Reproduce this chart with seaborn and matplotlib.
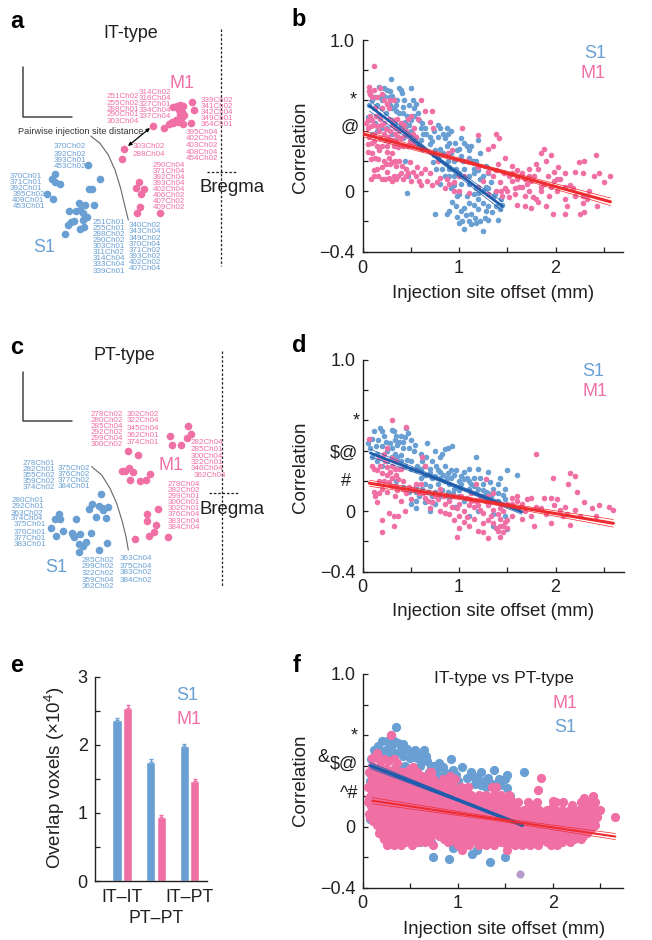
import numpy as np, pandas as pd
import matplotlib
matplotlib.use('Agg')
import matplotlib.pyplot as plt
import seaborn as sns

sns.set_theme(style='ticks')
plt.rcParams['font.family'] = ['Liberation Sans', 'DejaVu Sans']
plt.rcParams['mathtext.fontset'] = 'custom'
plt.rcParams['mathtext.rm'] = 'Liberation Sans'
plt.rcParams['mathtext.default'] = 'regular'

BLUE = '#699FD3'; PINK = '#F06FA4'; LB = '#1E5DAB'; LR = '#EE2B2E'; INK = '#231F20'

# ---------- panel b ----------
b_s1 = [(.29,.74),(.17,.69),(.22,.68),(.25,.67),(.28,.66),(.30,.63),(.38,.68),(.40,.67),(.41,.65),(.50,.68),(.43,.60),(.55,.58),(.53,.55),(.57,.52),(.07,.57),(.10,.6),(.12,.55),(.05,.49),(.09,.47),(.13,.45),(.17,.5),(.2,.55),(.24,.52),(.28,.57),(.32,.55),(.35,.53),(.38,.52),(.42,.52),(.46,.5),(.5,.47),(.53,.5),(.58,.47),(.3,.47),(.34,.45),(.4,.44),(.44,.42),(.5,.4),(.55,.36),(.6,.34),(.62,.45),(.65,.42),(.66,.38),(.7,.36),(.74,.4),(.78,.44),(.8,.42),(.83,.38),(.85,.35),(.88,.38),(.92,.4),(.62,.28),(.7,.31),(.75,.27),(.78,.22),(.83,.25),(.87,.3),(.92,.25),(.95,.2),(.98,.27),(1.02,.35),(1.05,.32),(1.08,.3),(1.12,.3),(1.2,.34),(1.22,.25),(1.18,.2),(1.1,.22),(1.05,.15),(1.0,.12),(.95,.1),(.9,.15),(.85,.1),(.8,.05),(.82,.15),(.73,.19),(.76,.15),(1.28,.17),(1.25,.1),(1.3,.12),(1.33,.06),(1.22,.08),(1.18,.02),(1.1,.05),(1.02,.05),(.95,.04),(1.0,-.02),(1.08,-.03),(1.15,-.02),(1.2,-.05),(1.25,-.08),(1.3,-.1),(1.35,-.04),(1.42,-.12),(1.45,-.09),(1.28,-.13),(1.2,-.12),(1.12,-.15),(1.05,-.11),(.97,-.1),(.9,-.13),(.75,-.15),(.87,-.15),(.98,-.17),(1.03,-.2),(1.05,-.25),(1.0,-.21),(1.12,-.22),(1.17,-.18),(1.18,-.21),(1.25,-.26),(1.3,-.19),(1.4,-.19),(.46,-.01),(.47,.1),(.44,.2),(.2,.42),(.1,.38),(.15,.4),(.25,.42),(.3,.38),(.36,.36),(.42,.35),(.5,.33),(.57,.3),(1.3,.02),(1.37,-.02),(1.43,-.05),
 (.08,.64),(.13,.62),(.18,.62),(.22,.63),(.27,.62),(.33,.6),(.36,.6),(.42,.56),(.48,.57),(.52,.6),(.15,.57),(.2,.6),(.3,.55),(.35,.57),(.44,.46),(.48,.44),(.6,.42),(.63,.38),(.72,.33),(.78,.36),(.87,.42),(.9,.32),(.96,.32),(1.0,.28),(1.02,.23),(1.1,.27),(1.14,.2),(.97,.15),(1.04,.2),(1.15,.12),(1.2,.14),(.88,.2),(.8,.28),(.74,.24),(1.1,.1),(1.28,.03),(1.2,-.01),(1.25,0),(1.38,-.1),(1.34,-.14),(1.27,-.18),(1.22,-.2),(1.15,-.09),(1.1,-.08),(1.02,-.13),(1.07,-.16),(1.1,-.2),(.93,-.07),(.98,-.03),(.92,.02),(1.15,.15),(.9,.1)]
b_m1 = [(.12,.83),(.07,.69),(.07,.66),(.08,.64),(.12,.67),(.18,.68),(.15,.62),(.1,.62),(.2,.64),(.22,.6),(.25,.58),(.28,.6),(.32,.6),(.27,.55),(.2,.55),(.13,.55),(.08,.5),(.05,.47),(.1,.47),(.14,.5),(.18,.48),(.22,.45),(.27,.48),(.32,.47),(.36,.48),(.4,.45),(.43,.44),(.47,.48),(.5,.5),(.45,.4),(.38,.4),(.33,.42),(.28,.4),(.22,.38),(.17,.4),(.12,.38),(.07,.36),(.1,.32),(.15,.3),(.2,.3),(.25,.3),(.3,.34),(.35,.33),(.4,.35),(.48,.37),(.55,.36),(.53,.42),(.57,.48),(.6,.6),(.65,.53),(.72,.53),(.7,.46),(.73,.42),(.05,.26),(.1,.25),(.17,.27),(.25,.26),(.3,.25),(.33,.2),(.28,.18),(.22,.2),(.15,.15),(.12,.14),(.09,.08),(.2,.08),(.25,.13),(.3,.07),(.35,.08),(.4,.12),(.45,.15),(.42,.08),(.5,.07),(.55,.1),(.58,.07),(.65,.15),(.7,.12),(.72,.04),(.8,.09),(.87,.08),(.9,.05),(.95,.0),(1.0,.1),(.78,.2),(.88,.25),(.93,.27),(1.03,.42),(1.3,.28),(1.38,.38),(1.35,.3),(1.41,.35),(1.2,.37),(1.08,.2),(1.2,.16),(1.3,.13),(1.4,.18),(1.48,.22),(1.55,.17),(1.52,.1),(1.6,.08),(1.58,.02),(1.65,.12),(1.7,.05),(1.72,.15),(1.78,.1),(1.8,.18),(1.85,.25),(1.88,.28),(1.9,.2),(1.95,.24),(1.98,.13),(2.03,.16),(2.05,.08),(2.1,.03),(2.2,.13),(2.15,.04),(1.48,.02),(1.42,.06),(1.38,.0),(1.45,-.03),(1.52,-.04),(1.6,-.09),(1.68,-.1),(1.75,-.11),(1.82,-.07),(1.9,-.1),(1.97,-.15),(2.1,-.15),(2.12,-.1),(2.25,-.15),(2.3,-.14),(2.28,-.08),(2.43,-.1),(2.35,.0),(2.4,.1),(2.45,.12),(2.5,.06),(2.57,.1),(2.3,.2),(2.42,.24),(2.24,.19),(2.28,.12),(2.18,.02),(2.02,.0),(1.93,-.03),(1.85,.03),(1.8,-.05),(1.72,0),(1.65,.03),(1.55,.07),(1.0,.0),(1.1,-.01),(1.2,.03),(1.3,-.02),
 (.03,.45),(.06,.42),(.09,.43),(.12,.44),(.15,.43),(.19,.44),(.24,.41),(.26,.36),(.3,.44),(.34,.38),(.37,.36),(.42,.41),(.44,.37),(.49,.33),(.52,.38),(.06,.31),(.12,.33),(.18,.35),(.23,.34),(.27,.33),(.32,.3),(.37,.29),(.42,.3),(.47,.3),(.52,.31),(.09,.21),(.13,.22),(.16,.21),(.2,.16),(.24,.18),(.27,.22),(.3,.19),(.35,.17),(.38,.2),(.41,.17),(.47,.12),(.49,.19),(.56,.16),(.6,.12),(.12,.1),(.16,.1),(.23,.08),(.27,.09),(.32,.1),(.37,.1),(.45,.1),(.52,.13),(.6,.04),(.77,.06),(.67,.07),(.85,.02),(.95,.06),(1.05,.1),(1.25,.07),(1.35,.1),(1.55,.12),(1.62,.03),(1.68,.08),(1.75,.07),(1.82,.15),(1.88,.05),(1.92,.1),(1.98,.07),(2.02,.08),(1.85,-.0),(1.95,.03),(2.1,.12),(2.2,-.03),(2.28,-.03),(2.33,-.05),(2.1,-.05),(1.72,.1),(1.6,.14),(1.47,.12),(1.38,.14),(1.43,.0),(1.5,.0),(1.58,-.02),(1.68,-.03),(1.77,-.04)]
b_fit_s1 = ([.07,.75,1.45], [.565,.23,-.10], [.60,.24,-.07], [.53,.22,-.13])
b_fit_m1 = ([0,1.3,2.57], [.38,.155,-.07], [.40,.165,-.045], [.36,.145,-.095])

# ---------- panel d ----------
d_s1 = [(.06,.45),(.12,.53),(.1,.48),(.18,.55),(.2,.53),(.16,.47),(.22,.5),(.3,.54),(.32,.53),(.36,.44),(.38,.46),(.42,.46),(.45,.55),(.47,.52),(.44,.49),(.5,.47),(.54,.44),(.53,.4),(.6,.38),(.67,.45),(.75,.4),(.82,.38),(.85,.41),(.88,.42),(.93,.43),(.8,.36),(.1,.36),(.15,.38),(.2,.35),(.25,.4),(.3,.42),(.36,.36),(.4,.37),(.46,.34),(.5,.33),(.56,.3),(.62,.33),(.66,.36),(.7,.28),(.76,.3),(.8,.26),(.85,.3),(.88,.25),(.92,.22),(.97,.27),(1.02,.23),(1.05,.26),(1.1,.28),(1.18,.36),(1.2,.28),(1.15,.22),(1.22,.22),(1.3,.26),(1.25,.18),(1.32,.19),(1.4,.18),(1.42,.22),(1.48,.15),(1.5,.27),(1.6,.24),(1.48,.08),(1.4,.07),(1.33,.1),(1.25,.1),(1.18,.12),(1.1,.15),(1.02,.18),(.95,.15),(.9,.18),(.85,.2),(.78,.18),(.72,.22),(.65,.24),(.6,.22),(.62,.15),(.68,.13),(.72,.1),(.75,.05),(.7,.0),(.65,.06),(.55,.02),(.5,.05),(.58,.1),(.55,.16),(.8,.1),(.9,.08),(1.0,.1),(1.05,.07),(.96,.03),(1.1,-.03),(1.2,.0),(1.35,-.02),(1.48,-.03),(1.5,-.12),(1.35,-.1),(.55,.13),
 (.08,.42),(.14,.43),(.2,.43),(.24,.46),(.28,.45),(.33,.47),(.35,.5),(.4,.5),(.42,.42),(.48,.42),(.3,.36),(.34,.38),(.4,.33),(.44,.3),(.5,.28),(.55,.27),(.6,.28),(.65,.3),(.72,.33),(.78,.27),(.83,.24),(.87,.22),(.7,.25),(.75,.23),(.8,.22),(.92,.27),(.95,.24),(1.0,.2),(1.05,.21),(1.08,.22),(1.1,.2),(1.12,.18),(1.15,.17),(1.2,.15),(1.25,.14),(1.28,.13),(1.3,.12),(1.35,.15),(1.4,.12),(1.45,.11),(.82,.14),(.88,.13),(.94,.12),(1.0,.14),(.75,.13),(.7,.17),(.65,.18),(.6,.12),(.55,.07),(.72,.06),(.48,.13),(.42,.16),(.35,.2),(.25,.33),(.15,.33),(.2,.3)]
d_m1 = [(.07,.48),(.3,.6),(.45,.56),(.25,.42),(.17,.36),(.22,.38),(.3,.35),(.35,.33),(.12,.28),(.15,.27),(.2,.25),(.25,.29),(.28,.26),(.35,.24),(.37,.21),(.4,.28),(.42,.2),(.62,.36),(.65,.3),(.12,.13),(.13,.1),(.17,.12),(.15,.06),(.2,.15),(.25,.13),(.3,.17),(.33,.1),(.36,.14),(.4,.07),(.45,.12),(.5,.08),(.52,.15),(.6,.18),(.63,.12),(.68,.07),(.27,-.01),(.32,-.03),(.37,-.03),(.44,0),(.2,-.06),(.32,-.1),(.2,-.14),(.7,.02),(.75,.1),(.8,.15),(.85,.05),(.95,.1),(1.0,.05),(1.05,.0),(1.08,.09),(1.12,.12),(1.18,.07),(1.22,.01),(1.25,-.01),(1.3,.04),(.9,-.02),(.95,-.06),(1.05,-.07),(1.1,-.1),(1.0,-.11),(.98,-.17),(1.2,-.13),(1.25,-.14),(1.3,-.18),(1.42,-.17),(1.35,-.08),(1.42,-.05),(1.45,-.1),(1.5,-.06),(1.55,-.03),(1.6,.02),(1.55,.09),(1.6,.1),(1.5,.05),(1.42,.02),(1.35,.01),(1.28,.21),(1.18,.18),(1.35,.12),(1.65,.05),(1.68,.0),(1.7,.08),(1.75,.09),(1.8,.03),(1.85,.02),(1.88,.09),(1.95,.09),(1.98,.04),(2.02,.08),(2.05,.01),(2.1,.03),(2.12,-.02),(2.2,.01),(2.25,-.03),(2.3,.06),(2.38,.02),(2.45,.04),(2.55,.03),(2.6,.01),(2.42,-.03),(1.9,-.02),(1.78,-.1),(1.65,-.05),(1.8,.38),(1.97,.22),(2.15,.25),(2.2,.23),(2.13,.18),(2.22,.13),(1.75,-.03),(2.08,-.03),(1.95,-.08),(2.15,-.09),
 (.1,.3),(.18,.3),(.23,.33),(.3,.3),(.38,.28),(.25,.24),(.3,.22),(.33,.28),(.22,.2),(.17,.2),(.27,.19),(.35,.17),(.42,.15),(.48,.16),(.55,.18),(.58,.12),(.65,.09),(.72,.06),(.78,.08),(.84,.1),(.9,.07),(.98,.02),(1.02,.1),(1.1,.04),(1.15,.03),(1.2,.04),(1.28,.07),(1.33,-.03),(1.38,.06),(1.4,-.02),(1.45,.0),(1.48,-.07),(1.42,-.1),(1.3,-.06),(1.25,-.08),(1.15,-.05),(1.08,-.04),(1.0,-.03),(.85,-.01),(.8,0),(.93,.03),(1.55,.05),(1.6,.07),(1.3,.1),(1.22,.1),(1.12,.07),(1.4,-.13),(1.45,-.14),(1.38,-.11),(1.5,-.11)]
d_fit_s1 = ([.08,.85,1.65], [.385,.195,-.005], [.41,.205,.01], [.36,.185,-.02])
d_fit_m1 = ([.07,1.3,2.6], [.185,.06,-.08], [.205,.07,-.055], [.165,.05,-.105])

# ---------- panel f ----------
f_s1 = [(.35,.65),(.3,.6),(.12,.5),(.2,.49),(.25,.5),(.3,.52),(.37,.55),(.4,.53),(.43,.5),(.47,.51),(.55,.5),(.6,.48),(.65,.5),(.3,.46),(.35,.48),(.42,.46),(.5,.45),(.57,.45),(.62,.44),(.09,.44),(.68,.43),(.72,.4),(.75,.4),(.8,.42),(.85,.39),(.93,.44),(.95,.37),(1.05,.39),(1.14,.36),(1.25,.36),(1.38,.37),(1.52,.34),(1.5,.31),(1.7,.36),(.75,.3),(.8,.33),(.88,.35),(1.0,.3),(1.1,.32),(1.2,.32),(1.28,.3),(1.18,.28),(1.08,.25),(1.32,.32),(1.45,.27),(1.4,.26),(1.3,.26),(.08,.35),(.08,.3),(.15,.36),(.7,.36),(.6,.4),(.45,.4),(.35,.4),(.25,.45),(1.52,.25),(1.55,.2),(.08,.05),(.42,-.0),(.6,-.1),(.72,-.1),(.74,-.2),(.91,-.21),(.95,-.14),(1.05,-.13),(1.15,-.18),(1.34,-.23),(1.2,-.15),(1.5,-.2),
 (.2,.56),(.26,.56),(.33,.56),(.42,.54),(.16,.53),(.52,.47),(.67,.46),(.78,.38),(.9,.3),(.98,.34),(1.16,.33),(1.24,.27),(1.36,.28),(1.43,.31)]
f_mix = [(1.66,-.31)]
f_m1_levels = [.36,.31,.26,.21,.16,.11,.06,.01,-.04,-.08,-.12,
               .335,.285,.235,.185,.135,.085,.035,-.015,-.06,-.10]
f_m1_rows = [
 [.07,.13,.2,.28,.35,.43,.5,.57,.72],
 [.1,.16,.22,.29,.36,.43,.51,.59,.66,.74,.84,.97],
 [.06,.12,.19,.26,.33,.4,.48,.56,.63,.71,.79,.87,.95,1.03,1.11,1.36,1.4],
 [.09,.18,.26,.34,.42,.5,.58,.66,.74,.82,.9,.98,1.06,1.14,1.22,1.3,1.38,1.46,1.54],
 [.06,.13,.21,.29,.37,.45,.53,.61,.69,.77,.85,.93,1.01,1.09,1.17,1.25,1.33,1.41,1.49,1.57,1.63,1.74,1.83,2.03,2.11,2.3,2.37,2.45],
 [.1,.18,.26,.34,.42,.5,.58,.66,.74,.82,.9,.98,1.06,1.14,1.22,1.3,1.38,1.46,1.54,1.62,1.7,1.78,1.86,1.94,2.02,2.1,2.18,2.28,2.36,2.44,2.5],
 [.08,.15,.23,.31,.39,.47,.55,.63,.71,.79,.87,.95,1.03,1.11,1.19,1.27,1.35,1.43,1.51,1.59,1.67,1.75,1.83,1.91,1.99,2.07,2.15,2.23,2.31,2.39,2.47,2.66],
 [.15,.22,.29,.37,.45,.53,.61,.69,.77,.85,.93,1.01,1.09,1.17,1.25,1.33,1.41,1.49,1.57,1.65,1.73,1.81,1.89,1.97,2.05,2.13,2.21,2.29,2.37,2.44],
 [.17,.25,.35,.44,.52,.6,.68,.76,.84,.92,1.0,1.08,1.16,1.24,1.32,1.4,1.48,1.56,1.64,1.72,1.8,1.88,1.96,2.04,2.12,2.2,2.28,2.36],
 [.22,.36,.44,.52,.6,.7,.86,.94,1.02,1.1,1.18,1.26,1.34,1.42,1.5,1.58,1.66,1.74,1.82,1.9,1.98,2.06,2.14,2.22,2.3],
 [.26,.33,.4,.52,.74,1.0,1.05,1.12,1.22,1.3,1.38,1.52,1.6,1.68,1.76,1.84,1.98,2.05],
 [.11,.19,.26,.33,.4,.47,.55,.62,.7],
 [.09,.15,.23,.3,.37,.44,.52,.6,.68,.76,.83,.91],
 [.1,.16,.23,.31,.38,.44,.53,.6,.67,.75,.83,.91,.99,1.07],
 [.07,.14,.22,.3,.38,.46,.54,.62,.7,.78,.86,.94,1.02,1.1,1.18,1.26,1.34,1.42,1.5,1.55],
 [.09,.17,.25,.33,.41,.49,.57,.65,.73,.81,.89,.97,1.05,1.13,1.21,1.29,1.37,1.45,1.53,1.6,1.78,2.0,2.35,2.42],
 [.07,.14,.22,.3,.38,.46,.54,.62,.7,.78,.86,.94,1.02,1.1,1.18,1.26,1.34,1.42,1.5,1.58,1.66,1.74,1.82,1.9,1.98,2.06,2.14,2.24,2.32,2.4],
 [.11,.19,.27,.35,.43,.51,.59,.67,.75,.83,.91,.99,1.07,1.15,1.23,1.31,1.39,1.47,1.55,1.63,1.71,1.79,1.87,1.95,2.03,2.11,2.19,2.27,2.35,2.43],
 [.18,.26,.34,.41,.49,.57,.65,.73,.81,.89,.97,1.05,1.13,1.21,1.29,1.37,1.45,1.53,1.61,1.69,1.77,1.85,1.93,2.01,2.09,2.17,2.25,2.33,2.4],
 [.21,.29,.4,.48,.56,.64,.72,.8,.88,.96,1.04,1.12,1.2,1.28,1.36,1.44,1.52,1.6,1.68,1.76,1.84,1.92,2.0,2.08,2.16,2.24,2.32],
 [.28,.36,.44,.52,.58,.66,.9,.98,1.06,1.14,1.22,1.3,1.38,1.46,1.54,1.62,1.7,1.78,1.86,1.94,2.02,2.1,2.18],
]
f_m1_extra = [(.3,.6),(.15,.48),(.1,.45),(.17,.44),(.22,.44),(.27,.43),(.33,.44),(.36,.42),(.5,.38),(.53,.39),(.71,.36),(.92,.33),(1.88,.32),(1.85,.24),(.1,.40),(.18,.40),(.25,.38),(.33,.38),(.4,.36),(1.05,-.15),(1.52,-.15),(2.0,.17),(2.2,.14),(2.33,.19),(2.42,.2)]
f_fit_s1 = ([.08,.9,1.68], [.40,.2,.01], [.42,.21,.0], [.38,.19,.02])
f_fit_m1 = ([.1,1.4,2.66], [.17,.05,-.065], [.19,.06,-.045], [.15,.04,-.085])

# ---------- panel e ----------
e_groups = ['IT–IT', 'PT–PT', 'IT–PT']
e_s1 = [2.36, 1.75, 1.98]; e_m1 = [2.54, .94, 1.47]
e_s1_err = [.04, .04, .03]; e_m1_err = [.05, .03, .03]

# ---------- panels a / c: injection maps (sheet position, pixels) ----------
a_m1 = [(576,305),(583,331),(520,322),(530,318),(540,315),(550,318),(537,330),(545,335),(540,345),(553,345),(545,352),(527,360),(515,365),(508,372),(518,370),(533,365),(550,372),(574,369),(492,385),(459,378),(373,446),(365,477),(418,546),(407,563),(433,568),(424,582),(421,622),(411,640),(480,640)]
a_s1 = [(265,496),(165,523),(155,538),(165,545),(179,552),(301,536),(268,567),(275,567),(140,581),(158,598),(236,610),(254,615),(281,616),(208,634),(228,632),(240,630),(248,640),(258,650),(262,652),(250,660),(223,663),(213,667),(205,675),(240,687),(253,680),(196,702)]
c_m1 = [(565,289),(572,313),(560,323),(509,319),(517,344),(542,345),(385,362),(415,375),(387,413),(365,423),(375,423),(399,426),(450,432),(437,450),(420,454),(390,450),(474,538),(442,552),(442,572),(467,585),(462,607),(447,617),(503,622),(406,628)]
c_s1 = [(302,491),(275,522),(266,537),(298,528),(305,535),(323,531),(310,540),(289,561),(317,565),(178,553),(181,566),(166,568),(228,568),(153,595),(188,603),(167,617),(215,610),(218,615),(222,622),(240,612),(273,610),(257,635),(238,642),(250,648),(320,638),(298,660),(238,665)]
a_curve = [(272,408),(300,430),(325,465),(345,510),(362,565),(375,620),(385,660)]
c_curve = [(275,410),(305,435),(330,475),(350,520),(367,575),(378,620),(385,660)]

a_labels = [
 ('m',320,['251Ch02','255Ch02','288Ch01','290Ch01','303Ch04'],[288,310,328,345,365]),
 ('m',417,['314Ch02','316Ch04','327Ch01','334Ch04','337Ch04'],[277,295,313,331,348]),
 ('m',602,['339Ch02','341Ch02','342Ch04','349Ch01','364Ch01'],[300,318,336,354,372]),
 ('m',558,['395Ch04','402Ch01','403Ch02','408Ch04','454Ch02'],[397,417,436,456,475]),
 ('m',399,['303Ch02','288Ch04'],[441,462]),
 ('m',457,['290Ch04','371Ch04','392Ch04','393Ch04','402Ch04','406Ch02','407Ch02','409Ch02'],[496,514,532,550,568,586,604,622]),
 ('s',162,['370Ch02','392Ch02','393Ch01','453Ch02'],[441,462,480,498]),
 ('s',30,['370Ch01','371Ch01','392Ch01'],[529,547,565]),
 ('s',37,['395Ch02'],[583]),('s',35,['409Ch01'],[601]),('s',37,['453Ch01'],[621]),
 ('s',277,['251Ch01','255Ch01','288Ch02','290Ch02','303Ch01','311Ch02','314Ch04','333Ch04','339Ch01'],[667,684,702,723,741,759,777,795,814]),
 ('s',387,['340Ch02','343Ch04','349Ch02','370Ch04','371Ch02','393Ch02','402Ch02','407Ch04'],[677,695,714,733,751,769,787,805]),
]
c_labels = [
 ('m',272,['278Ch02','280Ch02','285Ch04','292Ch02','299Ch04','300Ch02'],[253,271,289,307,325,345]),
 ('m',379,['302Ch02','322Ch04','345Ch04','362Ch01','374Ch01'],[253,273,295,316,337]),
 ('m',573,['282Ch04','285Ch01','300Ch04','322Ch01','346Ch04'],[337,358,379,397,417]),
 ('m',581,['362Ch04'],[436]),
 ('m',502,['278Ch04','282Ch02','299Ch01','300Ch01','302Ch01','376Ch04','383Ch04','384Ch04'],[463,481,499,517,535,553,574,592]),
 ('s',67,['278Ch01','282Ch01','355Ch02','359Ch02','374Ch02'],[400,418,436,454,472]),
 ('s',174,['375Ch02','376Ch02','377Ch02','384Ch01'],[415,433,451,469]),
 ('s',36,['280Ch01','292Ch01'],[511,529]),('s',33,['363Ch02','374Ch04'],[550,567]),
 ('s',40,['375Ch01','376Ch01','377Ch01','383Ch01'],[585,606,624,642]),
 ('s',245,['285Ch02','299Ch02','322Ch02','359Ch04','362Ch02'],[690,711,731,751,771]),
 ('s',358,['363Ch04','375Ch04','383Ch02','384Ch02'],[687,708,729,750]),
]

W, H = 652, 940
fig = plt.figure(figsize=(W/100, H/100), dpi=100, facecolor='white')

def axpx(l, t, r, b):
    return fig.add_axes([l/W, 1-b/H, (r-l)/W, (b-t)/H])

ov = fig.add_axes([0, 0, 1, 1], zorder=5)
ov.set_xlim(0, W); ov.set_ylim(H, 0); ov.axis('off'); ov.patch.set_alpha(0)

def T(x, y, s, size=13, color=INK, ha='center', va='center', **kw):
    ov.text(x, y, s, fontsize=size, color=color, ha=ha, va=va, **kw)

def corr_panel(l, t, r, b, xmax, s1, m1, fit_s1, fit_m1, size, ylab, xlab, pad, lw_s1=2.0, lw_m1=2.2):
    ax = axpx(l, t, r, b)
    s1x, s1y = zip(*s1); m1x, m1y = zip(*m1)
    sns.scatterplot(x=list(s1x), y=list(s1y), ax=ax, color=BLUE, s=size, linewidth=0, legend=False, clip_on=False, zorder=2)
    sns.scatterplot(x=list(m1x), y=list(m1y), ax=ax, color=PINK, s=size, linewidth=0, legend=False, clip_on=False, zorder=3)
    for fit, col, z, lw in ((fit_s1, LB, 4, lw_s1), (fit_m1, LR, 5, lw_m1)):
        xs, mid, up, lo = fit
        sns.lineplot(x=xs, y=mid, ax=ax, color=col, lw=lw, errorbar=None, legend=False, zorder=z)
        sns.lineplot(x=xs, y=up, ax=ax, color=col, lw=0.5, errorbar=None, legend=False, zorder=z)
        sns.lineplot(x=xs, y=lo, ax=ax, color=col, lw=0.5, errorbar=None, legend=False, zorder=z)
    ax.set_xlim(0, xmax); ax.set_ylim(-.4, 1)
    ax.set_xticks([0,.5,1,1.5,2,2.5]); ax.set_xticklabels(['0','','1','','2',''])
    ax.set_yticks(np.arange(-.4,1.01,.2)); ax.set_yticklabels(['−0.4','','0','','','','','1.0'])
    ax.tick_params(direction='in', length=3.5, width=.9, color=INK, labelsize=13, labelcolor=INK, pad=pad)
    ax.patch.set_alpha(0)
    sns.despine(ax=ax)
    for s in ('left','bottom'):
        ax.spines[s].set_linewidth(1); ax.spines[s].set_color(INK)
    ax.set_xlabel('Injection site offset (mm)', fontsize=13.4, color=INK)
    ax.set_ylabel('Correlation', fontsize=13.5, color=INK)
    ax.xaxis.set_label_coords(xlab[0], xlab[1], transform=ov.transData)
    ax.yaxis.set_label_coords(ylab[0], ylab[1], transform=ov.transData)
    ax.xaxis.label.set_va('center'); ax.yaxis.label.set_va('center')
    return ax

corr_panel(362.7, 40, 623, 251.7, 2.7, b_s1, b_m1, b_fit_s1, b_fit_m1, 16, (300,147), (493,294), 6)
corr_panel(362.7, 360, 624, 571.7, 2.71, d_s1, d_m1, d_fit_s1, d_fit_m1, 16, (300,467), (493,612), 5)
corr_panel(362.7, 674, 623, 887.7, 2.74, f_s1, f_m1_extra + [(x, y) for y, row in zip(f_m1_levels, f_m1_rows) for x in row], f_fit_s1, f_fit_m1, 44, (300,780), (504,930), 5, lw_s1=2.6, lw_m1=1.5)

mx, my = zip(*f_mix)
sns.scatterplot(x=[362.7+mx[0]*95], y=[826.7-my[0]*152.7], ax=ov, color='#B99BCB', s=34, linewidth=0, legend=False)

# panel e
e_df = pd.DataFrame({'group': e_groups*2, 'area': ['S1']*3+['M1']*3, 'v': e_s1+e_m1})
ax = axpx(94.7, 676.7, 207, 881)
sns.barplot(data=e_df, x='group', y='v', hue='area', hue_order=['S1','M1'], palette=[BLUE, PINK], width=.63, gap=.12, errorbar=None, ax=ax, legend=False, saturation=1)
bars = ax.containers
for cont, err, col in zip(bars, (e_s1_err, e_m1_err), (BLUE, PINK)):
    cx = [p.get_x()+p.get_width()/2 for p in cont]
    cy = [p.get_height() for p in cont]
    ax.errorbar(cx, cy, yerr=[[0]*3, err], fmt='none', ecolor=col, elinewidth=1, capsize=1.5, capthick=1)
ax.set_xlim(-.82, 2.52); ax.set_ylim(0, 3)
ax.set_yticks([0,.5,1,1.5,2,2.5,3]); ax.set_yticklabels(['0','','1','','2','','3'])
ax.tick_params(axis='y', direction='in', length=3.5, width=.9, color=INK, labelsize=13, labelcolor=INK, pad=5)
ax.tick_params(axis='x', length=0, labelsize=12.8, labelcolor=INK, pad=6)
ax.xaxis.get_major_ticks()[1].set_pad(21)
sns.despine(ax=ax)
for s in ('left','bottom'):
    ax.spines[s].set_linewidth(1); ax.spines[s].set_color(INK)
ax.set_xlabel(''); ax.set_ylabel('Overlap voxels (×10$^{4}$)', fontsize=13.5, color=INK)
ax.yaxis.set_label_coords(55, 778, transform=ov.transData); ax.yaxis.label.set_va('center')

# maps
def map_panel(m1, s1, curve, labels, dy):
    for pts, col in ((m1, PINK), (s1, BLUE)):
        px = [p[0]/3 for p in pts]; py = [dy+p[1]/3 for p in pts]
        sns.scatterplot(x=px, y=py, ax=ov, color=col, s=30, linewidth=0, legend=False)
    sns.lineplot(x=[p[0]/3 for p in curve], y=[dy+p[1]/3 for p in curve], ax=ov, color='#666666', lw=.8, errorbar=None, sort=False, legend=False)
    for area, x, names, ys in labels:
        for n, y in zip(names, ys):
            T(x/3, dy+y/3, n, size=5.8, color=PINK if area=='m' else BLUE, ha='left')

map_panel(a_m1, a_s1, a_curve, a_labels, 0)
map_panel(c_m1, c_s1, c_curve, c_labels, 330)
ov.set_xlim(0, W); ov.set_ylim(H, 0)

def lines(vx, vy0, vy1, hy, hx0, hx1, sy0, sy1, sx):
    ov.plot([vx, vx], [vy0, vy1], color=INK, lw=.9, ls=(0, (2, 1.5)))
    ov.plot([hx0, hx1], [hy, hy], color=INK, lw=.9, ls=(0, (2, 1.5)))
    ov.plot([22.7, 22.7, sx], [sy0, sy1, sy1], color='#444444', lw=1.1)

lines(220.7, 29, 266, 172, 207, 236, 66.7, 116.7, 71.7)
lines(222.3, 351, 587, 493, 209, 238, 371.7, 420.7, 71.7)
ov.annotate('', xy=(128, 146), xytext=(150, 128), arrowprops=dict(arrowstyle='<|-|>', color='black', lw=.9, mutation_scale=5, shrinkA=0, shrinkB=0))
T(80.5, 131, 'Pairwise injection site distance', size=6.6, color='#333333')

T(131, 33, 'IT-type'); T(124, 356, 'PT-type')
T(182, 83, 'M1', size=13, color=PINK); T(44, 248, 'S1', size=13, color=BLUE)
T(171, 466, 'M1', size=13, color=PINK); T(56, 568, 'S1', size=13, color=BLUE)
T(232, 187, 'Bregma', size=13.4); T(232, 509, 'Bregma', size=13.4)

T(595, 53, 'S1', color=BLUE); T(593, 73, 'M1', color=PINK)
T(593, 372, 'S1', color=BLUE); T(595, 392, 'M1', color=PINK)
T(504, 678, 'IT-type vs PT-type', size=12.5)
T(565, 703, 'M1', color=PINK); T(565, 727, 'S1', color=BLUE)
T(187, 695, 'S1', color=BLUE); T(189, 720, 'M1', color=PINK)

# significance marks
T(353, 100, '*', size=13); T(350, 127, '@', size=13)
T(356, 421, '*', size=13); T(344, 453, r'\$@', size=13); T(346, 481, '#', size=13)
T(354, 736, '*', size=13); T(323, 758, '&', size=13); T(330, 764, r'\$@', size=13, ha='left'); T(340, 793, '^#', size=13, ha='left')

for s, x, y in (('a',17,22),('b',299,20),('c',17,347),('d',299,345),('e',17,665),('f',297,665)):
    T(x, y, s, size=17, color='black', fontweight='bold')

fig.savefig('out.png', dpi=100, facecolor='white')
